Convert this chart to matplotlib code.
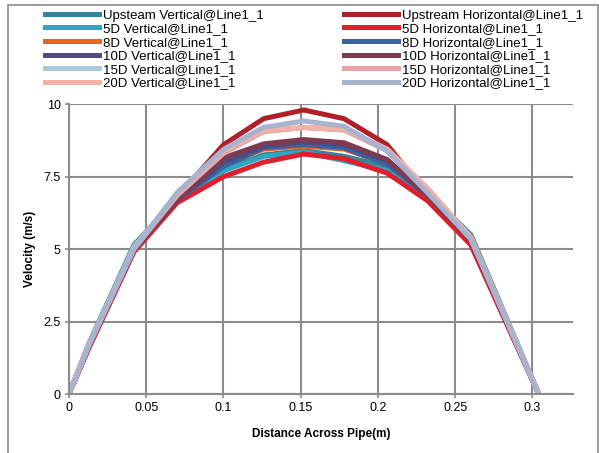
import matplotlib
matplotlib.use("Agg")
import matplotlib.pyplot as plt
from matplotlib.patches import Rectangle

plt.rcParams['font.family'] = ['Liberation Sans', 'DejaVu Sans']

# distance across pipe (m)
distance = [0, 0.013, 0.042, 0.07, 0.1, 0.126, 0.152, 0.178, 0.206, 0.232, 0.26, 0.304]

# velocity profiles (m/s)
upstream_vertical = [0, 1.75, 5.1, 6.75, 7.75, 8.25, 8.4, 8.2, 7.85, 6.95, 5.5, 0]
upstream_horizontal = [0, 1.65, 4.95, 6.8, 8.6, 9.5, 9.8, 9.5, 8.6, 6.85, 5.2, 0]
d5_vertical = [0, 1.75, 5.15, 6.75, 7.7, 8.2, 8.35, 8.05, 7.7, 6.9, 5.5, 0]
d5_horizontal = [0, 1.6, 4.9, 6.6, 7.5, 8.0, 8.28, 8.12, 7.62, 6.67, 5.15, 0]
d8_vertical = [0, 1.72, 5.05, 6.7, 7.9, 8.45, 8.55, 8.45, 7.95, 6.9, 5.45, 0]
d8_horizontal = [0, 1.7, 5.0, 6.7, 7.85, 8.5, 8.6, 8.5, 7.92, 6.85, 5.35, 0]
d10_vertical = [0, 1.7, 5.0, 6.7, 8.0, 8.55, 8.7, 8.6, 8.05, 6.85, 5.35, 0]
d10_horizontal = [0, 1.65, 4.95, 6.7, 8.15, 8.63, 8.78, 8.67, 8.09, 6.85, 5.3, 0]
d15_vertical = [0, 1.72, 5.05, 6.9, 8.35, 9.05, 9.2, 9.1, 8.4, 7.05, 5.4, 0]
d15_horizontal = [0, 1.7, 5.0, 6.85, 8.3, 9.06, 9.19, 9.13, 8.38, 7.1, 5.4, 0]
d20_vertical = [0, 1.72, 5.05, 6.9, 8.4, 9.1, 9.2, 9.15, 8.45, 7.1, 5.4, 0]
d20_horizontal = [0, 1.7, 5.0, 6.95, 8.44, 9.2, 9.42, 9.24, 8.38, 6.95, 5.35, 0]

# (label, values, colour) in the order Excel drew them
series = [
    ("Upsteam Vertical@Line1_1", upstream_vertical, "#31859c"),
    ("Upstream Horizontal@Line1_1", upstream_horizontal, "#b0202a"),
    ("5D Vertical@Line1_1", d5_vertical, "#2ea6c2"),
    ("5D Horizontal@Line1_1", d5_horizontal, "#e01e2c"),
    ("8D Vertical@Line1_1", d8_vertical, "#e8661c"),
    ("8D Horizontal@Line1_1", d8_horizontal, "#3a62a0"),
    ("10D Vertical@Line1_1", d10_vertical, "#4c4c7e"),
    ("10D Horizontal@Line1_1", d10_horizontal, "#7e3a50"),
    ("15D Vertical@Line1_1", d15_vertical, "#a9cbd9"),
    ("15D Horizontal@Line1_1", d15_horizontal, "#e8a2a6"),
    ("20D Vertical@Line1_1", d20_vertical, "#f2b2a8"),
    ("20D Horizontal@Line1_1", d20_horizontal, "#a8b3cf"),
]

fig = plt.figure(figsize=(5.99, 4.53), dpi=100)
ax = fig.add_axes([0.1152, 0.1302, 0.8408, 0.6398])

lines = []
for label, values, color in series:
    line, = ax.plot(distance, values, color=color, lw=3.6, label=label,
                    solid_joinstyle='miter')
    lines.append(line)

ax.set_xlim(0, 0.326)
ax.set_ylim(0, 10)
ax.set_xticks([0, 0.05, 0.1, 0.15, 0.2, 0.25, 0.3])
ax.set_xticklabels(["0", "0.05", "0.1", "0.15", "0.2", "0.25", "0.3"])
ax.set_yticks([0, 2.5, 5, 7.5, 10])
ax.set_yticklabels(["0", "2.5", "5", "7.5", "10"])
ax.grid(True, color="#8c8c8c", lw=1.5)
ax.set_axisbelow(True)
for side in ["top", "right"]:
    ax.spines[side].set_visible(False)
for side in ["left", "bottom"]:
    ax.spines[side].set_color("#8c8c8c")
    ax.spines[side].set_linewidth(1.5)
ax.tick_params(length=3, width=1.2, color="#8c8c8c", labelsize=9, pad=3)
ax.set_xlabel("Distance Across Pipe(m)", fontsize=8.5, fontweight='bold', labelpad=10)
ax.set_ylabel("Velocity (m/s)", fontsize=8.5, fontweight='bold', labelpad=5)

# legend: verticals in first column, horizontals in second
order = list(range(0, 12, 2)) + list(range(1, 12, 2))
fig.legend([lines[i] for i in order], [series[i][0] for i in order],
           ncol=2, loc='upper left', bbox_to_anchor=(0.062, 0.997),
           frameon=False, fontsize=9.5, handlelength=4.1, handletextpad=0.3,
           labelspacing=0.1, columnspacing=6.1, borderaxespad=0.2)

# outer chart border
fig.patches.append(Rectangle((8 / 599, -0.02), 590 / 599, 1 - 5 / 453 + 0.02,
                             transform=fig.transFigure, fill=False,
                             edgecolor="#8c8c8c", lw=1.2))

fig.savefig("out.png", dpi=100)
